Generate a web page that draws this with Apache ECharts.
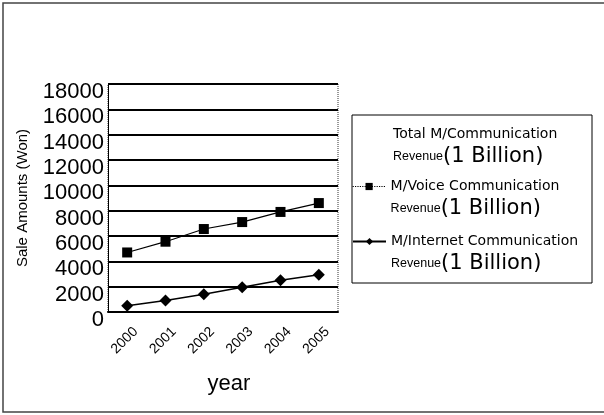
<!DOCTYPE html>
<html>
<head>
<meta charset="utf-8">
<script src="https://cdn.jsdelivr.net/npm/echarts@6/dist/echarts.min.js"></script>
<style>
html,body{margin:0;padding:0;background:#fff;}
#chart{width:604px;height:415px;}
</style>
</head>
<body>
<div id="chart"></div>
<script>
const years = ['2000', '2001', '2002', '2003', '2004', '2005'];
const totalRevenue = [];
const voiceRevenue = [4700, 5550, 6550, 7100, 7900, 8600];
const internetRevenue = [500, 900, 1400, 1950, 2500, 2950];
const seriesNames = ['Total M/Communication', 'M/Voice Communication', 'M/Internet Communication'];
const yTicks = { min: 0, max: 18000, interval: 2000 };

const FONT = '"Liberation Sans", Arial, sans-serif';
const WIDE = '"DejaVu Sans", sans-serif';
const chart = echarts.init(document.getElementById('chart'));

function legendFor(left, top, extra) {
  return Object.assign({
    orient: 'vertical',
    left: left, top: top,
    padding: 0,
    itemWidth: 33, itemHeight: 9, itemGap: 0,
    selectedMode: false,
    textStyle: {
      color: '#000',
      rich: {
        e: { fontSize: 10, lineHeight: 22.5 },
        a: { fontFamily: WIDE, fontSize: 14, color: '#000', lineHeight: 22.5 },
        b: { fontFamily: FONT, fontSize: 12.5, color: '#000', lineHeight: 22.5 },
        c: { fontFamily: WIDE, fontSize: 21, color: '#000', lineHeight: 22.5 }
      }
    },
    formatter: function (name) {
      return '{e| }\n{a|' + name + '}\n{b|Revenue}{c|(1 Billion)}';
    }
  }, extra);
}

chart.setOption({
  backgroundColor: '#fff',
  animation: false,
  graphic: [{
    type: 'rect',
    shape: { x: 3, y: 3, width: 602, height: 409 },
    style: { fill: 'none', stroke: '#444', lineWidth: 1.5 },
    silent: true
  }, {
    type: 'rect',
    shape: { x: 352, y: 115, width: 240, height: 168 },
    style: { fill: 'none', stroke: '#000', lineWidth: 1 },
    silent: true
  }],
  grid: {
    left: 108, right: 266, top: 84, bottom: 103,
    show: true, borderColor: '#333', borderWidth: 1, borderType: 'dotted'
  },
  legend: [
    legendFor(355, 107, { data: [{ name: seriesNames[0], icon: 'rect', itemStyle: { opacity: 0 }, lineStyle: { opacity: 0 } }] }),
    legendFor(352, 159, { data: [{ name: seriesNames[1], lineStyle: { type: 'dotted', width: 1.2, color: '#000' } }] }),
    legendFor(352, 214, { data: [{ name: seriesNames[2] }] })
  ],
  xAxis: {
    type: 'category',
    data: years,
    boundaryGap: true,
    name: 'year',
    nameLocation: 'middle',
    nameGap: 61,
    nameTextStyle: { fontFamily: FONT, fontSize: 22, color: '#000', padding: [0, 0, 0, 12] },
    axisLine: { lineStyle: { color: '#000', width: 2 } },
    axisTick: { inside: true, length: 5, interval: 0, lineStyle: { color: '#000' } },
    axisLabel: {
      rotate: 45, interval: 0, hideOverlap: false, fontFamily: FONT, fontSize: 14, color: '#000', margin: 9,
      formatter: function (v) { return '{s| }\n{t|' + v + '}'; },
      rich: {
        s: { fontSize: 10, lineHeight: 24 },
        t: { fontFamily: FONT, fontSize: 14, color: '#000', lineHeight: 16 }
      }
    }
  },
  yAxis: {
    type: 'value',
    min: yTicks.min, max: yTicks.max, interval: yTicks.interval,
    name: 'Sale Amounts (Won)',
    nameLocation: 'middle',
    nameGap: 78,
    nameTextStyle: { fontFamily: FONT, fontSize: 15, color: '#000' },
    axisLine: { show: true, lineStyle: { color: '#000', width: 1 } },
    axisTick: { show: false },
    axisLabel: {
      fontFamily: FONT, fontSize: 22, color: '#000', margin: 4,
      verticalAlign: 'top', lineHeight: 16,
      formatter: function (v) { return String(v); }
    },
    splitLine: { lineStyle: { color: '#000', width: 2 } }
  },
  series: [
    { name: seriesNames[0], type: 'line', data: totalRevenue, symbol: 'none',
      lineStyle: { color: '#000', width: 1 }, itemStyle: { color: '#000' } },
    { name: seriesNames[1], type: 'line', data: voiceRevenue, symbol: 'rect', symbolSize: 10,
      lineStyle: { color: '#000', width: 1.2 }, itemStyle: { color: '#000' } },
    { name: seriesNames[2], type: 'line', data: internetRevenue, symbol: 'diamond', symbolSize: 12,
      lineStyle: { color: '#000', width: 1.5 }, itemStyle: { color: '#000' } }
  ]
});
</script>
</body>
</html>
